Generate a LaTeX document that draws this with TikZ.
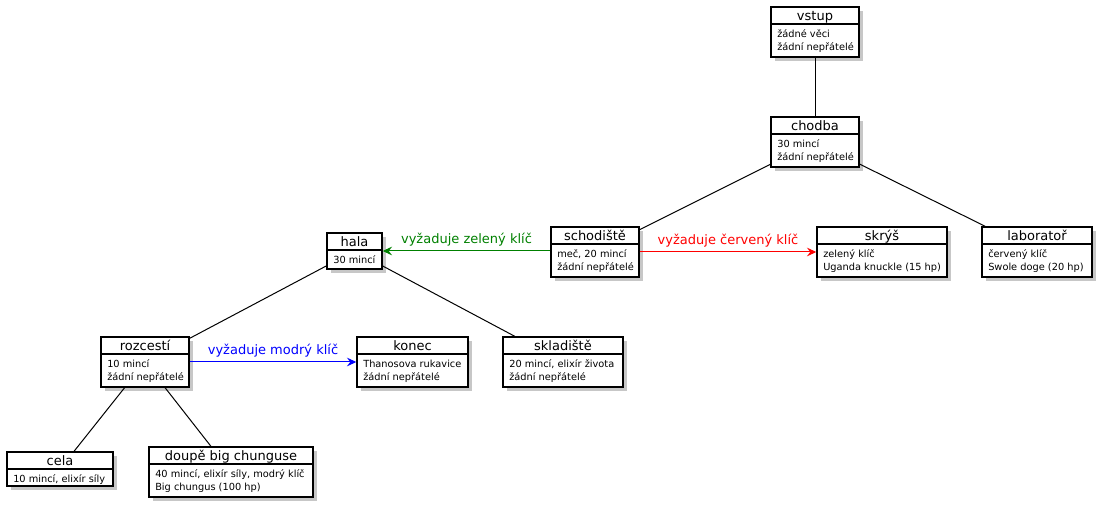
\documentclass[tikz,border=0pt]{standalone}
\usepackage{fontspec}
\setmainfont{DejaVu Sans}
\usetikzlibrary{arrows.meta,shadows,fit}
\tikzset{
  objframe/.style={draw, line width=1.1pt, fill=white, inner sep=0pt,
    drop shadow={shadow xshift=2.8pt, shadow yshift=-2.8pt, opacity=0.4, fill=black!55}},
  objtitle/.style={inner sep=0pt, anchor=base, font=\fontsize{9.75}{11}\selectfont},
  objbody/.style={inner sep=0pt, anchor=base west, font=\fontsize{7.35}{9}\selectfont},
  link/.style={draw, line width=0.75pt},
  req/.style={line width=0.75pt, -{Stealth[length=7pt,width=6.5pt,inset=2.5pt]}},
  reqlabel/.style={font=\fontsize{9.75}{11}\selectfont, inner sep=0pt, above=3pt}
}
\newcommand\objbox[9]{%
  \node[objframe, fit={(#2,#3) (#4,#5)}] (#1) {};
  \draw[line width=1.1pt] (#2,#6) -- (#4,#6);
  \node[objtitle] (#1-t) at ({(#2+#4)/2},{#3+13.5}) {#7};
  \node[objbody] (#1-a) at ({#2+6},{#6+13.5}) {#8};
  \if\relax\detokenize{#9}\relax\else
    \node[objbody] (#1-b) at ({#2+6},{#6+26.5}) {#9};
  \fi
}
\begin{document}
\begin{tikzpicture}[x=0.75pt,y=-0.75pt]
\useasboundingbox (0,0) rectangle (1101,509);
\objbox{vstup}{771}{7}{859}{57}{24}{vstup}{žádné věci}{žádní nepřátelé}
\objbox{chodba}{771}{117}{859}{167}{134}{chodba}{30 mincí}{žádní nepřátelé}
\objbox{schod}{551}{227}{639}{277}{244}{schodiště}{meč, 20 mincí}{žádní nepřátelé}
\objbox{skrys}{817}{227}{947}{277}{244}{skrýš}{zelený klíč}{Uganda knuckle (15 hp)}
\objbox{lab}{982}{227}{1092}{277}{244}{laboratoř}{červený klíč}{Swole doge (20 hp)}
\objbox{hala}{327}{233}{382}{269}{250}{hala}{30 mincí}{}
\objbox{rozc}{101}{337}{189}{387}{354}{rozcestí}{10 mincí}{žádní nepřátelé}
\objbox{konec}{357}{337}{468}{387}{354}{konec}{Thanosova rukavice}{žádní nepřátelé}
\objbox{sklad}{503}{337}{623}{387}{354}{skladiště}{20 mincí, elixír života}{žádní nepřátelé}
\objbox{cela}{7}{452}{113}{486}{469}{cela}{10 mincí, elixír síly}{}
\objbox{doupe}{149}{447}{313}{497}{464}{doupě big chunguse}{40 mincí, elixír síly, modrý klíč}{Big chungus (100 hp)}
\draw[link] (vstup) -- (chodba);
\draw[link] (chodba) -- (schod);
\draw[link] (chodba) -- (lab);
\draw[link] (hala) -- (rozc);
\draw[link] (hala) -- (sklad);
\draw[link] (rozc) -- (cela);
\draw[link] (rozc) -- (doupe);
\draw[req, green!50!black] (schod.west |- hala) -- node[reqlabel] {vyžaduje zelený klíč} (hala.east);
\draw[req, red] (schod) -- node[reqlabel] {vyžaduje červený klíč} (skrys);
\draw[req, blue] (rozc) -- node[reqlabel] {vyžaduje modrý klíč} (konec);
\end{tikzpicture}
\end{document}
